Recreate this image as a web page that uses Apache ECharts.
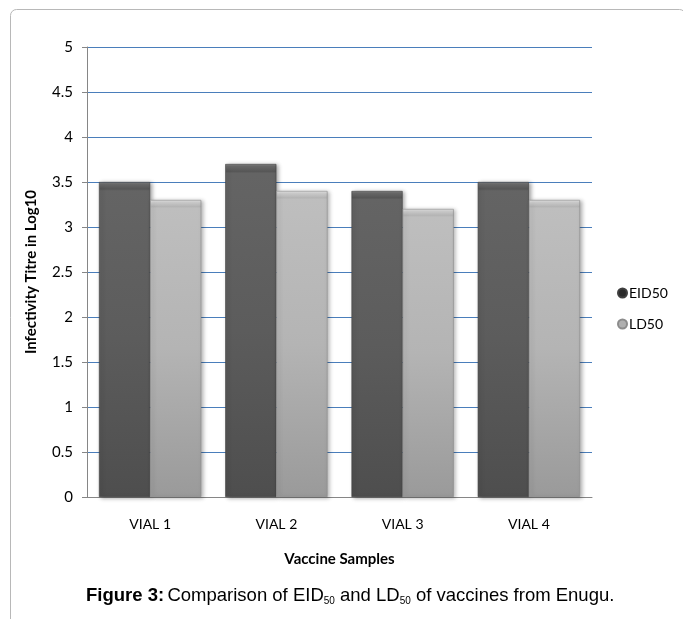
<!DOCTYPE html>
<html>
<head>
<meta charset="utf-8">
<script src="https://cdn.jsdelivr.net/npm/echarts@6/dist/echarts.min.js"></script>
<style>
html,body{margin:0;padding:0;background:#fff;}
#chart{width:683px;height:619px;}
</style>
</head>
<body>
<div id="chart"></div>
<script>
const categories = ['VIAL 1', 'VIAL 2', 'VIAL 3', 'VIAL 4'];
const eid50 = [3.5, 3.7, 3.4, 3.5];
const ld50 = [3.3, 3.4, 3.2, 3.3];
const seriesNames = ['EID50', 'LD50'];
const yMin = 0, yMax = 5, yInterval = 0.5;

const chart = echarts.init(document.getElementById('chart'));
const font = 'Lato, "Open Sans", sans-serif';

function grad(stops) {
  return new echarts.graphic.LinearGradient(0, 0, 0, 1,
    stops.map(s => ({ offset: s[0], color: s[1] })));
}

chart.setOption({
  animation: false,
  backgroundColor: '#fff',
  grid: { left: 87, right: 91, top: 47, bottom: 122 },
  legend: {
    orient: 'vertical',
    left: 612,
    top: 281,
    itemGap: 17,
    icon: 'circle',
    itemWidth: 9,
    itemHeight: 9,
    textStyle: { fontFamily: font, fontSize: 14, color: '#000', padding: [0, 0, 0, -3] },
    data: [
      { name: seriesNames[0], itemStyle: { color: '#2a2a2a' } },
      { name: seriesNames[1], itemStyle: { color: '#b0b0b0' } }
    ]
  },
  xAxis: {
    type: 'category',
    data: categories,
    name: 'Vaccine Samples',
    nameLocation: 'middle',
    nameGap: 55,
    nameTextStyle: { fontFamily: font, fontSize: 15, fontWeight: 'bold', color: '#000' },
    axisLine: { lineStyle: { color: '#868686', width: 1 } },
    axisTick: { show: false },
    axisLabel: { fontFamily: font, fontSize: 14, color: '#000', margin: 20 }
  },
  yAxis: {
    type: 'value',
    min: yMin, max: yMax, interval: yInterval,
    name: 'Infectivity Titre in Log10',
    nameLocation: 'middle',
    nameGap: 48,
    nameRotate: 90,
    nameTextStyle: { fontFamily: font, fontSize: 15, fontWeight: 'bold', color: '#000' },
    axisLine: { show: true, lineStyle: { color: '#868686', width: 1 } },
    axisTick: { show: true, length: 5, lineStyle: { color: '#868686' } },
    axisLabel: { fontFamily: font, fontSize: 15, color: '#000', margin: 14 },
    splitLine: { lineStyle: { color: '#4a7ebb', width: 1 } }
  },
  series: [
    {
      name: seriesNames[0],
      type: 'bar',
      data: eid50,
      barGap: '0%',
      barCategoryGap: '19%',
      itemStyle: {
        color: grad([[0, '#8c8c8c'], [0.006, '#6c6c6c'], [0.022, '#565656'], [0.028, '#646464'], [0.5, '#5c5c5c'], [1, '#4e4e4e']]),
        borderColor: '#3f3f3f',
        borderWidth: 0.6,
        shadowColor: 'rgba(0,0,0,0.35)',
        shadowBlur: 4,
        shadowOffsetX: 2,
        shadowOffsetY: 1
      }
    },
    {
      name: seriesNames[1],
      type: 'bar',
      data: ld50,
      itemStyle: {
        color: grad([[0, '#f0f0f0'], [0.006, '#d2d2d2'], [0.022, '#b4b4b4'], [0.028, '#bebebe'], [0.5, '#b4b4b4'], [1, '#9a9a9a']]),
        borderColor: '#8c8c8c',
        borderWidth: 0.6,
        shadowColor: 'rgba(0,0,0,0.3)',
        shadowBlur: 4,
        shadowOffsetX: 2,
        shadowOffsetY: 1
      }
    }
  ],
  graphic: [
    {
      type: 'rect',
      silent: true,
      shape: { x: 10.5, y: 9.5, width: 675, height: 640, r: 6 },
      style: { fill: 'none', stroke: '#b8b8b8', lineWidth: 1 }
    },
    {
      type: 'text',
      left: 86,
      top: 586,
      style: {
        text: '{b|Figure 3:} {n|Comparison of EID}{s|50}{n| and LD}{s|50}{n| of vaccines from Enugu.}',
        rich: {
          b: { fontFamily: 'Liberation Sans, Arial, sans-serif', fontSize: 18.5, fontWeight: 'bold', color: '#111', lineHeight: 22 },
          n: { fontFamily: 'Liberation Sans, Arial, sans-serif', fontSize: 18.5, color: '#111', lineHeight: 22 },
          s: { fontFamily: 'Liberation Sans, Arial, sans-serif', fontSize: 10, color: '#111', lineHeight: 11, verticalAlign: 'bottom' }
        }
      }
    }
  ]
});
</script>
</body>
</html>
